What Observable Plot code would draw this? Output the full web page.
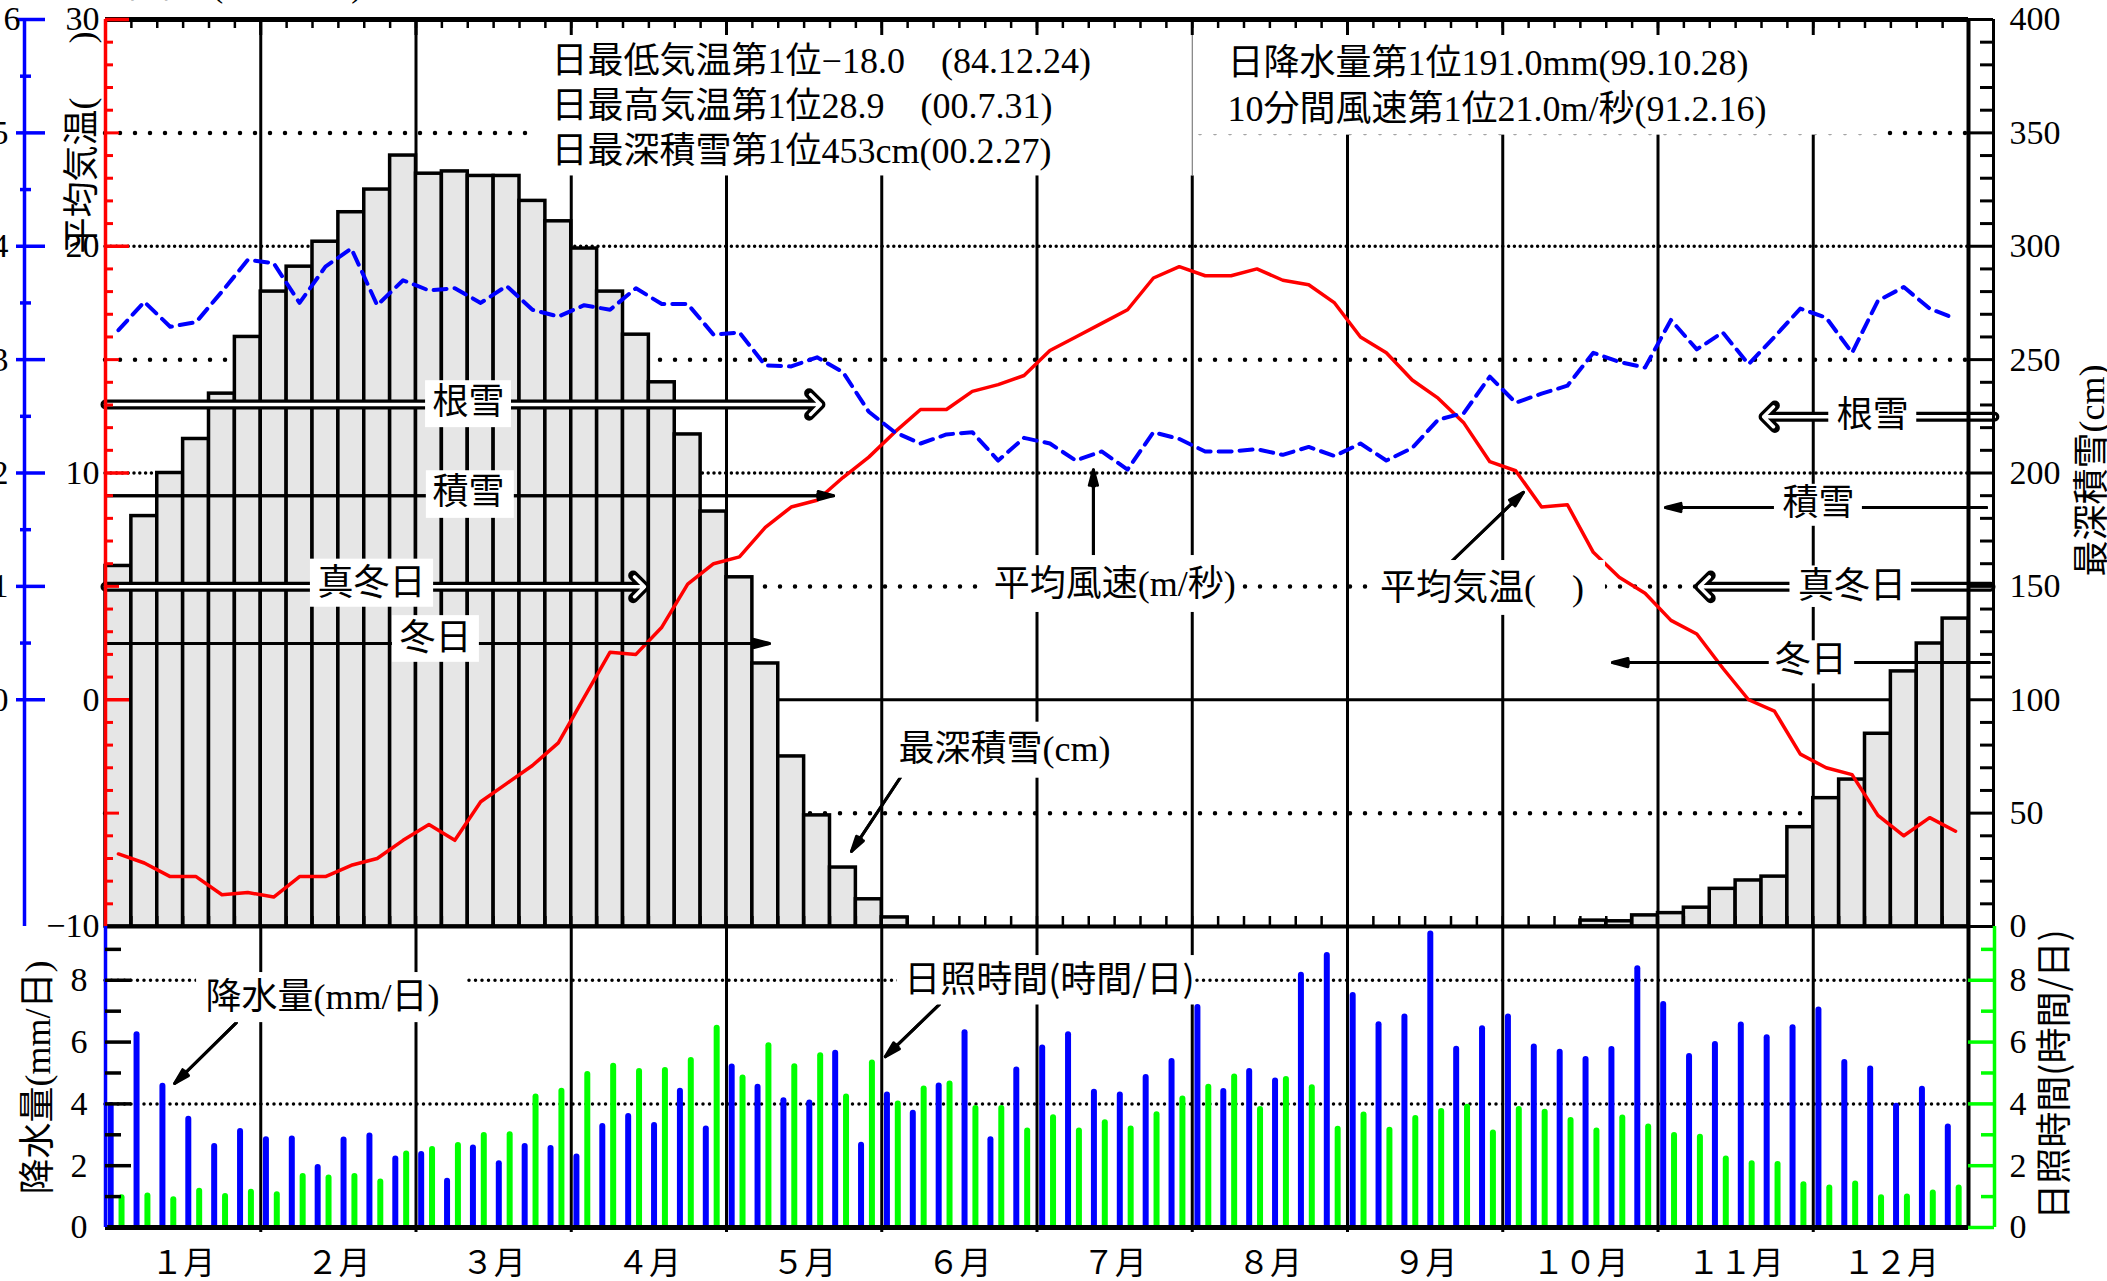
<!DOCTYPE html>
<html lang="ja">
<head>
<meta charset="utf-8">
<title>平年値グラフ</title>
<script src="https://cdn.jsdelivr.net/npm/d3@7"></script>
<script src="https://cdn.jsdelivr.net/npm/@observablehq/plot@0.6"></script>
<style>
  html, body { margin:0; padding:0; background:#fff; }
  #chart { position:relative; width:2107px; height:1281px; overflow:hidden; background:#fff; }
  #chart svg { position:absolute; left:0; top:0; max-width:none; }
</style>
</head>
<body>
<div id="chart"></div>
<script>
// ================= DATA (pentad values, 6 per month) =================
const monthLabels = ["１月","２月","３月","４月","５月","６月","７月","８月","９月","１０月","１１月","１２月"];

// 最深積雪 (cm)
const snowDepth = [
  159,181,200,215,235,260,
  280,291,302,315,325,340,
  332,333,331,331,320,311,
  299,280,261,240,217,183,
  154,116,75,49,26,12,
  4,0,0,0,0,0,
  0,0,0,0,0,0,
  0,0,0,0,0,0,
  0,0,0,0,0,0,
  0,0,0,2.6,2.3,4.9,
  5.9,8.3,16.6,20.3,22,43.8,
  56.6,64.8,85,112.5,124.8,135.8
];

// 平均気温 (°C)
const meanTemp = [
  -6.8,-7.2,-7.8,-7.8,-8.6,-8.5,
  -8.7,-7.8,-7.8,-7.3,-7.0,-6.2,
  -5.5,-6.2,-4.5,-3.7,-2.9,-1.9,
  0.1,2.1,2.0,3.2,5.1,6.0,
  6.3,7.6,8.5,8.8,9.8,10.7,
  11.8,12.8,12.8,13.6,13.9,14.3,
  15.4,16.0,16.6,17.2,18.6,19.1,
  18.7,18.7,19.0,18.5,18.3,17.5,
  16.0,15.3,14.1,13.3,12.2,10.5,
  10.1,8.5,8.6,6.5,5.4,4.7,
  3.5,2.9,1.4,0.0,-0.5,-2.4,
  -3.0,-3.3,-5.1,-6.0,-5.2,-5.8
];

// 平均風速 (m/秒)
const windSpeed = [
  3.26,3.51,3.29,3.33,3.60,3.88,
  3.85,3.50,3.82,3.98,3.48,3.70,
  3.61,3.63,3.50,3.65,3.44,3.38,
  3.48,3.44,3.63,3.49,3.49,3.22,
  3.24,2.95,2.94,3.02,2.89,2.54,
  2.36,2.26,2.34,2.36,2.11,2.31,
  2.26,2.11,2.19,2.03,2.36,2.30,
  2.19,2.19,2.21,2.16,2.23,2.15,
  2.26,2.11,2.22,2.47,2.53,2.85,
  2.62,2.70,2.77,3.06,2.98,2.93,
  3.35,3.09,3.24,2.96,3.20,3.45,
  3.37,3.06,3.52,3.64,3.45,3.36
];

// 降水量 (mm/日)
const precipitation = [
  3.95,6.24,4.57,3.50,2.62,3.11,
  2.84,2.86,1.94,2.83,2.96,2.22,
  2.36,1.50,2.57,2.06,2.62,2.56,
  2.28,3.27,3.59,3.30,4.41,3.19,
  5.19,4.54,4.10,4.03,5.64,2.66,
  4.29,3.70,4.58,6.30,2.84,5.10,
  5.81,6.24,4.38,4.29,4.85,5.37,
  7.12,4.40,5.05,4.74,8.16,8.80,
  7.51,6.56,6.81,9.50,5.77,6.43,
  6.81,5.84,5.67,5.44,5.76,8.37,
  7.22,5.53,5.92,6.55,6.14,6.46,
  7.04,5.34,5.13,3.92,4.47,3.25
];

// 日照時間 (時間/日)
const sunshine = [
  0.96,1.02,0.90,1.17,1.00,1.14,
  1.06,1.65,1.60,1.65,1.47,2.38,
  2.52,2.65,2.98,3.00,4.22,4.41,
  4.95,5.22,5.05,5.08,5.40,6.45,
  4.84,5.88,5.20,5.56,4.22,5.32,
  4.00,4.48,4.64,3.85,3.85,3.12,
  3.55,3.12,3.39,3.19,3.65,4.16,
  4.54,4.87,3.82,4.79,4.52,3.18,
  3.64,3.15,3.53,3.75,3.89,3.06,
  3.82,3.73,3.46,3.12,3.54,3.25,
  2.98,2.92,2.22,2.06,2.04,1.38,
  1.28,1.41,0.96,0.99,1.12,1.28
];

const tempTicks = [30, 20, 10, 0, -10];
const windTicks = [0, 1, 2, 3, 4, 5, 6];
const snowTicks = [0, 50, 100, 150, 200, 250, 300, 350, 400];
const lowerTicks = [0, 2, 4, 6, 8];

const recordLines = [
  "日最低気温第1位−18.0\u2002\u2002(84.12.24)",
  "日最高気温第1位28.9\u2002\u2002(00.7.31)",
  "日最深積雪第1位453cm(00.2.27)",
  "日降水量第1位191.0mm(99.10.28)",
  "10分間風速第1位21.0m/秒(91.2.16)"
];

// ================= LAYOUT =================
const W = 2107, H = 1281;
const ML = 105, MR = 139;
const TOP_T = 19, TOP_B = 926, BOT_B = 1227;
const PW = (W - ML - MR) / 72;          // px per pentad
const TPX = (TOP_B - TOP_T) / 40;       // px per °C
const VMAX = 9.74;
const VPX = (BOT_B - TOP_B) / VMAX;     // px per unit (lower panel)
const px = p => p / PW, pt = p => p / TPX, pv = p => p / VPX;

const SERIF = "'Liberation Serif','Noto Sans CJK JP',serif";
const SANS = "'Noto Sans CJK JP','Noto Sans',sans-serif";
const RED = "#ff0000", BLUE = "#0000ff", GREEN = "#00ff00", GRAY = "#e6e6e6";

const idx = d3.range(72);
const snowT = s => s / 10 - 10;   // snow (cm) on the temperature axis
const windT = w => w * 5;         // wind (m/s) on the temperature axis

// annotation positions (x in pentads, y in °C units of the upper panel)
const recordPos = [
  {x: 17.24, y: 28.15}, {x: 17.24, y: 26.17}, {x: 17.24, y: 24.18},
  {x: 43.36, y: 28.06}, {x: 43.36, y: 26.03}
];
const boxesTop = [
  {x1: 16.4, x2: 42.15, y1: 23.1, y2: 30},
  {x1: 42.15, x2: 68.6, y1: 24.9, y2: 30},
  {x1: 12.37, x2: 15.69, y1: 12.0, y2: 14.07},
  {x1: 12.4, x2: 15.8, y1: 8.0, y2: 10.1},
  {x1: 7.92, x2: 12.68, y1: 4.08, y2: 6.2},
  {x1: 11.09, x2: 14.45, y1: 1.65, y2: 3.71},
  {x1: 66.6, x2: 70.0, y1: 11.85, y2: 13.4},
  {x1: 64.5, x2: 67.9, y1: 7.65, y2: 9.5},
  {x1: 65.1, x2: 69.8, y1: 4.07, y2: 5.9},
  {x1: 64.3, x2: 67.6, y1: 0.7, y2: 2.6},
  {x1: 34.0, x2: 43.86, y1: 3.85, y2: 6.36},
  {x1: 49.1, x2: 57.97, y1: 3.72, y2: 6.14},
  {x1: 30.34, x2: 39.03, y1: -3.46, y2: -0.99}
];
const labelsTop = [
  {x: 14.03, y: 13.1, text: "根雪"},
  {x: 14.03, y: 9.15, text: "積雪"},
  {x: 10.28, y: 5.15, text: "真冬日"},
  {x: 12.75, y: 2.7, text: "冬日"},
  {x: 68.3, y: 12.55, text: "根雪"},
  {x: 66.2, y: 8.65, text: "積雪"},
  {x: 67.5, y: 5.0, text: "真冬日"},
  {x: 65.9, y: 1.75, text: "冬日"},
  {x: 39.0, y: 5.1, text: "平均風速(m/秒)"},
  {x: 53.2, y: 4.9, text: "平均気温(\u3000)"},
  {x: 34.74, y: -2.2, text: "最深積雪(cm)"}
];
const hollowTop = [
  {x1: 0, x2: 27.63, y: 13.02},
  {x1: 0, x2: 20.83, y: 4.98},
  {x1: 73.0, x2: 64.08, y: 12.48},
  {x1: 72.85, x2: 61.6, y: 4.98}
];
const solidTop = [
  {x1: 0, y1: 9.0, x2: 28.14, y2: 9.0},
  {x1: 0, y1: 2.48, x2: 25.66, y2: 2.48},
  {x1: 72.7, y1: 8.48, x2: 60.29, y2: 8.48},
  {x1: 72.8, y1: 1.64, x2: 58.24, y2: 1.64},
  {x1: 38.18, y1: 6.21, x2: 38.18, y2: 10.14},
  {x1: 51.94, y1: 6.01, x2: 54.8, y2: 9.15},
  {x1: 30.72, y1: -3.43, x2: 28.83, y2: -6.69}
];
const boxesBottom = [
  {x1: 3.52, x2: 13.95, y1: 6.63, y2: 8.25},
  {x1: 30.6, x2: 42.1, y1: 7.2, y2: 8.8}
];
const solidBottom = [
  {x1: 5.06, y1: 6.63, x2: 2.67, y2: 4.66},
  {x1: 32.23, y1: 7.22, x2: 30.14, y2: 5.53}
];

function solidArrows(data) {
  const o = {x1: "x1", y1: "y1", x2: "x2", y2: "y2", stroke: "black", strokeWidth: 3, headLength: 8};
  return [
    Plot.arrow(data, {...o, headAngle: 30}),
    Plot.arrow(data, {...o, headAngle: 14})
  ];
}
function hollowArrows(data) {
  const o = {x1: "x1", y1: "y", x2: "x2", y2: "y", headAngle: 90};
  return [
    Plot.arrow(data, {...o, stroke: "black", strokeWidth: 10, headLength: 2.4}),
    Plot.arrow(data, {...o, stroke: "white", strokeWidth: 3.5, headLength: 6})
  ];
}

// ================= UPPER PANEL =================
const topPlot = Plot.plot({
  width: W, height: 945,
  marginTop: TOP_T, marginBottom: 945 - TOP_B, marginLeft: ML, marginRight: MR,
  x: {domain: [0, 72], axis: null},
  y: {domain: [-10, 30], axis: null},
  style: {background: "transparent"},
  marks: [
    // grid
    Plot.ruleY([25, 15, 5, -5], {stroke: "black", strokeWidth: 4.5, strokeDasharray: "0 15", strokeLinecap: "round"}),
    Plot.ruleY([20, 10], {stroke: "black", strokeWidth: 3.5, strokeDasharray: "0 5.8", strokeLinecap: "round"}),
    Plot.ruleY([0], {stroke: "black", strokeWidth: 3}),
    Plot.ruleX(d3.range(6, 72, 6), {y1: -10, y2: 30, stroke: "black", strokeWidth: 3}),
    // snow depth bars
    Plot.rect(idx.filter(i => snowDepth[i] > 0), {
      x1: i => i, x2: i => i + 1, y1: -10, y2: i => snowT(snowDepth[i]),
      fill: GRAY, stroke: "black", strokeWidth: 3.5
    }),
    Plot.ruleX(d3.range(1, 72), {y1: -10, y2: -10 + pt(10), stroke: "black", strokeWidth: 2.5}),
    // temperature & wind
    Plot.line(idx, {x: i => i + 0.5, y: i => meanTemp[i], stroke: RED, strokeWidth: 3.5}),
    Plot.line(idx, {x: i => i + 0.5, y: i => windT(windSpeed[i]), stroke: BLUE, strokeWidth: 4, strokeDasharray: "13 8"}),
    // arrows
    ...hollowArrows(hollowTop),
    ...solidArrows(solidTop),
    // label boxes
    Plot.rect(boxesTop, {x1: "x1", x2: "x2", y1: "y1", y2: "y2", fill: "white"}),
    Plot.ruleX([42], {y1: 23.1, y2: 30, stroke: "#666", strokeWidth: 1}),
    // texts
    Plot.text(recordLines, {x: (d, i) => recordPos[i].x, y: (d, i) => recordPos[i].y, text: d => d,
      textAnchor: "start", fontSize: 36, fontFamily: SERIF, fill: "black"}),
    Plot.text(labelsTop, {x: "x", y: "y", text: "text", fontSize: 36, fontFamily: SERIF, fill: "black"}),
    // top ticks
    Plot.ruleX(d3.range(1, 72), {y1: 30, y2: 30 - pt(9), stroke: "black", strokeWidth: 2.5}),
    Plot.ruleX(d3.range(6, 72, 6), {y1: 30, y2: 30 - pt(16), stroke: "black", strokeWidth: 3}),
    // frame
    Plot.ruleY([30], {stroke: "black", strokeWidth: 5}),
    Plot.ruleY([-10], {stroke: "black", strokeWidth: 4}),
    Plot.ruleX([72], {y1: -10, y2: 30, stroke: "black", strokeWidth: 4}),
    // red temperature axis
    Plot.ruleX([0], {y1: -10, y2: 30, stroke: RED, strokeWidth: 3.5}),
    Plot.ruleY(d3.range(-9, 30).filter(t => t % 5 !== 0), {x1: 0, x2: px(8), stroke: RED, strokeWidth: 3}),
    Plot.ruleY([-5, 5, 15, 25], {x1: 0, x2: px(14), stroke: RED, strokeWidth: 3}),
    Plot.ruleY([0, 10, 20, 30], {x1: 0, x2: px(24), stroke: RED, strokeWidth: 3.5}),
    Plot.text(tempTicks, {x: 0, y: d => d, text: d => d < 0 ? "\u2212" + Math.abs(d) : String(d),
      dx: -6, textAnchor: "end", fontSize: 34, fontFamily: SERIF, fill: "black"}),
    // blue wind axis
    Plot.ruleX([0], {y1: -10, y2: 30, dx: -81, stroke: BLUE, strokeWidth: 3.5}),
    Plot.ruleY(windTicks, {y: w => windT(w), x1: -px(89), x2: -px(60), stroke: BLUE, strokeWidth: 3.5}),
    Plot.ruleY(d3.range(0.5, 6, 1), {y: w => windT(w), x1: -px(85), x2: -px(74), stroke: BLUE, strokeWidth: 3.5}),
    Plot.text([6], {x: 0, y: w => windT(w), text: String, dx: -85, textAnchor: "end", fontSize: 34, fontFamily: SERIF, fill: "black"}),
    Plot.text(windTicks.slice(0, 6), {x: 0, y: w => windT(w), text: String, dx: -97, textAnchor: "end", fontSize: 34, fontFamily: SERIF, fill: "black"}),
    // right snow axis
    Plot.ruleX([72], {y1: -10, y2: 30, dx: 25, stroke: "black", strokeWidth: 3}),
    Plot.ruleY(d3.range(10, 400, 10).filter(s => s % 50 !== 0), {y: s => snowT(s), x1: 72 + px(12), x2: 72 + px(25), stroke: "black", strokeWidth: 3}),
    Plot.ruleY(snowTicks, {y: s => snowT(s), x1: 72, x2: 72 + px(25), stroke: "black", strokeWidth: 3}),
    Plot.text(snowTicks, {x: 72, y: s => snowT(s), text: String, dx: 41, textAnchor: "start", fontSize: 34, fontFamily: SERIF, fill: "black"}),
    // axis titles
    Plot.text(["平均気温(\u3000\u2002)"], {x: 0, y: 24.58, dx: -23, rotate: -90, text: d => d, fontSize: 36, fontFamily: SERIF, fill: "black"}),
    Plot.text(["最深積雪(cm)"], {x: 72, y: 10.11, dx: 124, rotate: -90, text: d => d, fontSize: 36, fontFamily: SERIF, fill: "black"}),
    Plot.text(["平年値(\u3000\u3000\u3000\u3000)"], {x: 0, y: 31.45, dx: 11, textAnchor: "start", text: d => d, fontSize: 32, fontFamily: SERIF, fill: "black"})
  ]
});

// ================= LOWER PANEL =================
const bottomPlot = Plot.plot({
  width: W, height: H,
  marginTop: TOP_B, marginBottom: H - BOT_B, marginLeft: ML, marginRight: MR,
  x: {domain: [0, 72], axis: null},
  y: {domain: [0, VMAX], axis: null},
  style: {background: "transparent"},
  marks: [
    Plot.ruleY([4, 8], {stroke: "black", strokeWidth: 3.5, strokeDasharray: "0 6.5", strokeLinecap: "round"}),
    Plot.ruleX(d3.range(6, 72, 6), {y1: -pv(5), y2: VMAX, stroke: "black", strokeWidth: 3}),
    Plot.ruleX(idx, {x: i => i + 0.2, y1: 0, y2: i => precipitation[i], stroke: BLUE, strokeWidth: 6, strokeLinecap: "round"}),
    Plot.ruleX(idx, {x: i => i + 0.62, y1: 0, y2: i => sunshine[i], stroke: GREEN, strokeWidth: 6, strokeLinecap: "round"}),
    ...solidArrows(solidBottom),
    Plot.rect(boxesBottom, {x1: "x1", x2: "x2", y1: "y1", y2: "y2", fill: "white"}),
    Plot.text(["降水量(mm/日)"], {x: 8.39, y: 7.44, text: d => d, fontSize: 36, fontFamily: SERIF, fill: "black"}),
    Plot.text(["日照時間(時間/日)"], {x: 36.48, y: 7.99, text: d => d, fontSize: 36, fontFamily: SANS, fill: "black"}),
    // frame
    Plot.ruleY([0], {stroke: "black", strokeWidth: 5}),
    Plot.ruleX([72], {y1: 0, y2: VMAX, stroke: "black", strokeWidth: 4}),
    Plot.ruleX([0], {y1: 0, y2: VMAX, stroke: BLUE, strokeWidth: 3.5}),
    Plot.ruleX([72], {y1: 0, y2: VMAX, dx: 26, stroke: GREEN, strokeWidth: 3.5}),
    // left ticks
    Plot.ruleY([2, 4, 6, 8], {x1: 0, x2: px(26), stroke: "black", strokeWidth: 3.5}),
    Plot.ruleY([1, 3, 5, 7, 9], {x1: 0, x2: px(16), stroke: "black", strokeWidth: 3.5}),
    Plot.text(lowerTicks, {x: 0, y: d => d, text: String, dx: -18, textAnchor: "end", fontSize: 34, fontFamily: SERIF, fill: "black"}),
    // right green ticks
    Plot.ruleY(lowerTicks, {x1: 72, x2: 72 + px(26), stroke: GREEN, strokeWidth: 3.5}),
    Plot.ruleY([1, 3, 5, 7, 9], {x1: 72 + px(13), x2: 72 + px(26), stroke: GREEN, strokeWidth: 3.5}),
    Plot.text(lowerTicks, {x: 72, y: d => d, text: String, dx: 41, textAnchor: "start", fontSize: 34, fontFamily: SERIF, fill: "black"}),
    // month labels
    Plot.text(monthLabels, {x: (d, i) => i * 6 + 3, y: 0, dy: 36, text: d => d, fontSize: 32, fontFamily: SANS, fill: "black"}),
    // axis titles
    Plot.text(["降水量(mm/日)"], {x: 0, y: 4.85, dx: -67, rotate: -90, text: d => d, fontSize: 36, fontFamily: SERIF, fill: "black"}),
    Plot.text(["日照時間(時間/日)"], {x: 72, y: 4.95, dx: 87, rotate: -90, text: d => d, fontSize: 36, fontFamily: SANS, fill: "black"})
  ]
});

const chart = document.getElementById("chart");
chart.appendChild(topPlot);
chart.appendChild(bottomPlot);
</script>
</body>
</html>
